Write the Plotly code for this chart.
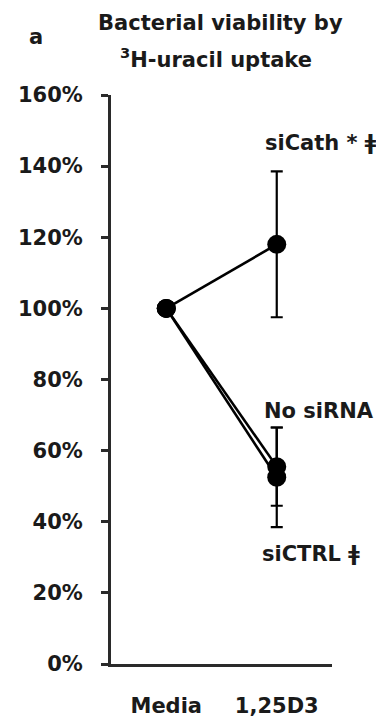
import plotly.graph_objects as go

# ---- data ----
categories = ["Media", "1,25D3"]
series_names = ["siCath * ǂ", "No siRNA", "siCTRL ǂ"]
sicath_values = [100, 118]
sicath_err = [0, 20.5]
nosirna_values = [100, 55.5]
nosirna_err = [0, 11]
sictrl_values = [100, 52.5]
sictrl_err = [0, 14]
y_tickvals = [0, 20, 40, 60, 80, 100, 120, 140, 160]
y_ticktext = ["0%", "20%", "40%", "60%", "80%", "100%", "120%", "140%", "160%"]

W, H = 376, 718
ML, MR, MT, MB = 111, 44, 95, 53.5
PW = W - ML - MR
PH = H - MT - MB

def px(x):
    return (x - ML) / PW

def py(y):
    return (H - MB - y) / PH

FONT = "DejaVu Sans"
TXT = "#1a1a1a"
FS = 21

fig = go.Figure()
for vals, errs in [(nosirna_values, nosirna_err), (sictrl_values, sictrl_err), (sicath_values, sicath_err)]:
    fig.add_trace(go.Scatter(
        x=[0, 1], y=vals,
        mode="lines+markers",
        line=dict(color="black", width=2.6),
        marker=dict(size=19, color="black"),
        error_y=dict(type="data", array=errs, visible=True, color="black", thickness=2.2, width=6),
        showlegend=False,
        cliponaxis=False,
    ))

fig.update_layout(
    width=W, height=H,
    margin=dict(l=ML, r=MR, t=MT, b=MB, autoexpand=False),
    plot_bgcolor="white", paper_bgcolor="white",
    font=dict(family=FONT, size=FS, color=TXT, weight="bold"),
    showlegend=False,
    xaxis=dict(
        range=[-0.5, 1.5], tickvals=[0, 1], ticktext=categories,
        showline=True, linecolor="#2a2a2a", linewidth=3,
        showgrid=False, zeroline=False, ticks="", ticklabelstandoff=21,
        tickfont=dict(family=FONT, size=FS, color=TXT, weight="bold"),
        fixedrange=True, automargin=False,
    ),
    yaxis=dict(
        range=[0, 160], tickvals=y_tickvals, ticktext=y_ticktext,
        showline=True, linecolor="#2a2a2a", linewidth=3,
        showgrid=False, zeroline=False, ticks="outside", ticklen=7, tickwidth=2.5,
        tickcolor="#2a2a2a", ticklabelstandoff=14,
        tickfont=dict(family=FONT, size=FS, color=TXT, weight="bold"),
        fixedrange=True, automargin=False,
    ),
)

annots = [
    ("Bacterial viability by", 220, 23, "center"),
    ("<sup>3</sup>H-uracil uptake", 216, 58, "center"),
    ("a", 27, 37, "left"),
    (series_names[0], 263, 143, "left"),
    (series_names[1], 262, 411, "left"),
    (series_names[2], 260, 554, "left"),
]
for text, x, y, anc in annots:
    fig.add_annotation(
        text=text, x=px(x), y=py(y), xref="paper", yref="paper",
        xanchor=anc, yanchor="middle", showarrow=False,
        font=dict(family=FONT, size=FS, color=TXT, weight="bold"),
    )

fig.write_html("out.html")
